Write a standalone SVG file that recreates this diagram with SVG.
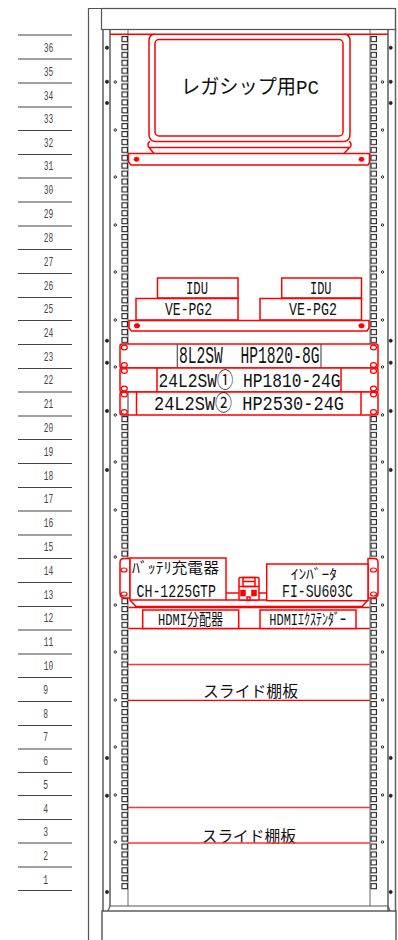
<svg xmlns="http://www.w3.org/2000/svg" width="398" height="940" viewBox="0 0 398 940">
<style>
.g{fill:none;stroke:#555;stroke-width:1.2}
.p{fill:none;stroke:#666;stroke-width:1.6}
.e{fill:none;stroke:#555;stroke-width:.9}
.r{fill:#fff;stroke:#f00;stroke-width:1.5}
.rl{fill:none;stroke:#f00;stroke-width:1.5}
.o{fill:none;stroke:#f00;stroke-width:1.2}
.rd{fill:#f00;stroke:#f00;stroke-width:.5}
.u{stroke:#444;stroke-width:1.1}
.n{font-family:"Liberation Mono","Noto Sans CJK JP",monospace;font-size:12px;fill:#444;text-anchor:middle}
.t{font-family:"Liberation Mono","Noto Sans CJK JP",monospace;fill:#111;white-space:pre}
.j{font-family:"Noto Sans CJK JP","Liberation Sans",sans-serif;fill:#111}
</style>
<defs>
<pattern id="holes" patternUnits="userSpaceOnUse" x="121" y="36" width="8" height="7.917">
<rect x="1" y=".6" width="5.4" height="5" fill="#fff" stroke="#222" stroke-width="1.100"/>
</pattern>
<pattern id="holesR" patternUnits="userSpaceOnUse" x="370" y="36" width="8" height="7.917">
<rect x="1" y=".6" width="5.4" height="5" fill="#fff" stroke="#222" stroke-width="1.100"/>
</pattern>
<circle id="b" r="1.7" fill="#222" stroke="#222" stroke-width=".5"/>
<circle id="s" r="1.2" fill="#fff" stroke="#222" stroke-width="1"/>
</defs>
<rect width="398" height="940" fill="#fff"/>
<g id="unit-scale">
<path class="u" d="M18 35H72M18 59H72M18 83H72M18 107H72M18 130.500H72M18 154.500H72M18 178H72M18 202H72M18 226H72M18 249.500H72M18 273.500H72M18 297.500H72M18 320.500H72M18 344.500H72M18 368.500H72M18 392H72M18 416H72M18 439.500H72M18 463.500H72M18 487.500H72M18 511H72M18 535H72M18 558.500H72M18 582.500H72M18 606.500H72M18 630H72M18 654H72M18 677.500H72M18 701.500H72M18 725.500H72M18 749H72M18 772.500H72M18 795.500H72M18 819.500H72M18 843H72M18 867H72M18 890.500H72"/>
<g class="n">
<text x="48.500" y="51.500" textLength="9.500" lengthAdjust="spacingAndGlyphs">36</text>
<text x="48.500" y="75.500" textLength="9.500" lengthAdjust="spacingAndGlyphs">35</text>
<text x="48.500" y="99.500" textLength="9.500" lengthAdjust="spacingAndGlyphs">34</text>
<text x="48.500" y="123" textLength="9.500" lengthAdjust="spacingAndGlyphs">33</text>
<text x="48.500" y="146.500" textLength="9.500" lengthAdjust="spacingAndGlyphs">32</text>
<text x="48.500" y="170" textLength="9.500" lengthAdjust="spacingAndGlyphs">31</text>
<text x="48.500" y="194" textLength="9.500" lengthAdjust="spacingAndGlyphs">30</text>
<text x="48.500" y="218" textLength="9.500" lengthAdjust="spacingAndGlyphs">29</text>
<text x="48.500" y="242" textLength="9.500" lengthAdjust="spacingAndGlyphs">28</text>
<text x="48.500" y="265.500" textLength="9.500" lengthAdjust="spacingAndGlyphs">27</text>
<text x="48.500" y="289.500" textLength="9.500" lengthAdjust="spacingAndGlyphs">26</text>
<text x="48.500" y="313" textLength="9.500" lengthAdjust="spacingAndGlyphs">25</text>
<text x="48.500" y="336.500" textLength="9.500" lengthAdjust="spacingAndGlyphs">24</text>
<text x="48.500" y="360.500" textLength="9.500" lengthAdjust="spacingAndGlyphs">23</text>
<text x="48.500" y="384" textLength="9.500" lengthAdjust="spacingAndGlyphs">22</text>
<text x="48.500" y="408" textLength="9.500" lengthAdjust="spacingAndGlyphs">21</text>
<text x="48.500" y="431.500" textLength="9.500" lengthAdjust="spacingAndGlyphs">20</text>
<text x="48.500" y="455.500" textLength="9.500" lengthAdjust="spacingAndGlyphs">19</text>
<text x="48.500" y="479.500" textLength="9.500" lengthAdjust="spacingAndGlyphs">18</text>
<text x="48.500" y="503" textLength="9.500" lengthAdjust="spacingAndGlyphs">17</text>
<text x="48.500" y="527" textLength="9.500" lengthAdjust="spacingAndGlyphs">16</text>
<text x="48.500" y="550.500" textLength="9.500" lengthAdjust="spacingAndGlyphs">15</text>
<text x="48.500" y="574.500" textLength="9.500" lengthAdjust="spacingAndGlyphs">14</text>
<text x="48.500" y="598.500" textLength="9.500" lengthAdjust="spacingAndGlyphs">13</text>
<text x="48.500" y="622" textLength="9.500" lengthAdjust="spacingAndGlyphs">12</text>
<text x="48.500" y="646" textLength="9.500" lengthAdjust="spacingAndGlyphs">11</text>
<text x="48.500" y="669.500" textLength="9.500" lengthAdjust="spacingAndGlyphs">10</text>
<text x="45.700" y="693.500" textLength="4.800" lengthAdjust="spacingAndGlyphs">9</text>
<text x="45.700" y="717.500" textLength="4.800" lengthAdjust="spacingAndGlyphs">8</text>
<text x="45.700" y="741" textLength="4.800" lengthAdjust="spacingAndGlyphs">7</text>
<text x="45.700" y="765" textLength="4.800" lengthAdjust="spacingAndGlyphs">6</text>
<text x="45.700" y="788.500" textLength="4.800" lengthAdjust="spacingAndGlyphs">5</text>
<text x="45.700" y="812.500" textLength="4.800" lengthAdjust="spacingAndGlyphs">4</text>
<text x="45.700" y="836" textLength="4.800" lengthAdjust="spacingAndGlyphs">3</text>
<text x="45.700" y="860" textLength="4.800" lengthAdjust="spacingAndGlyphs">2</text>
<text x="45.700" y="883.500" textLength="4.800" lengthAdjust="spacingAndGlyphs">1</text>
</g>
</g>
<g id="rack">
<path class="g" d="M88.500 940V8.500H395M395.500 29V8.500"/>
<path class="p" d="M103 29V911M110 29V906M388 29V911M395.500 29V911"/>
<path class="e" d="M128 29V906M370 29V906"/>
<rect class="g" x="101.500" y="8.500" width="294" height="21"/>
<rect x="121" y="36" width="8" height="855" fill="url(#holes)"/>
<rect x="370" y="36" width="8" height="855" fill="url(#holesR)"/>
<path class="g" d="M110 906H388"/>
<rect x="102" y="911" width="294" height="30" fill="#fff" stroke="#444" stroke-width="1.3"/>
<path class="g" d="M110 906L108 911M388 906L390 911"/>
<g id="screws">
<use href="#b" x="107" y="47.700"/><use href="#b" x="107" y="81.700"/><use href="#b" x="107" y="103"/><use href="#b" x="107" y="340.700"/><use href="#b" x="107" y="362.700"/><use href="#b" x="107" y="411"/><use href="#b" x="107" y="470"/><use href="#b" x="107" y="758"/><use href="#b" x="107" y="795.700"/><use href="#b" x="107" y="892"/>
<use href="#b" x="390.700" y="47.700"/><use href="#b" x="390.700" y="81.700"/><use href="#b" x="390.700" y="103"/><use href="#b" x="390.700" y="340.700"/><use href="#b" x="390.700" y="362.700"/><use href="#b" x="390.700" y="411"/><use href="#b" x="390.700" y="470"/><use href="#b" x="390.700" y="758"/><use href="#b" x="390.700" y="795.700"/><use href="#b" x="390.700" y="892"/>
<use href="#s" x="115.300" y="82"/><use href="#s" x="115.300" y="130"/><use href="#s" x="115.300" y="177"/><use href="#s" x="115.300" y="225"/><use href="#s" x="115.300" y="272"/><use href="#s" x="115.300" y="320"/><use href="#s" x="115.300" y="367"/><use href="#s" x="115.300" y="415"/><use href="#s" x="115.300" y="462"/><use href="#s" x="115.300" y="510"/><use href="#s" x="115.300" y="557"/><use href="#s" x="115.300" y="605"/><use href="#s" x="115.300" y="652"/><use href="#s" x="115.300" y="700"/><use href="#s" x="115.300" y="747"/><use href="#s" x="115.300" y="795"/><use href="#s" x="115.300" y="842"/>
<use href="#s" x="382.500" y="82"/><use href="#s" x="382.500" y="130"/><use href="#s" x="382.500" y="177"/><use href="#s" x="382.500" y="225"/><use href="#s" x="382.500" y="272"/><use href="#s" x="382.500" y="320"/><use href="#s" x="382.500" y="367"/><use href="#s" x="382.500" y="415"/><use href="#s" x="382.500" y="462"/><use href="#s" x="382.500" y="510"/><use href="#s" x="382.500" y="557"/><use href="#s" x="382.500" y="605"/><use href="#s" x="382.500" y="652"/><use href="#s" x="382.500" y="700"/><use href="#s" x="382.500" y="747"/><use href="#s" x="382.500" y="795"/><use href="#s" x="382.500" y="842"/>
</g>
</g>
<g id="connectors">
<path class="rl" d="M226 593H267M226 600H267"/>
</g>
<g id="legacy-pc">
<path class="rl" d="M110 34.300H388"/>
<path class="rl" d="M155 34.300Q149 34.300 149 41V134Q149 141 155 141.500H344Q350 141 350 134V41Q350 34.300 344 34.300"/>
<rect class="rl" x="155" y="39.500" width="188" height="96.500" rx="4"/>
<path class="rl" d="M150 141.500Q148 142 148 145Q148 147 149 147.500H349.500Q351 147 351 145Q351 142 349 141.500M149 147.500L154 153.500M349.500 147.500L344 153.500"/>
<path class="r" d="M128.500 153.500H369.500V162L368 165H131L128.500 162Z"/>
<ellipse class="rd" cx="136.500" cy="159.300" rx="2.600" ry="2.200"/>
<ellipse class="rd" cx="361.500" cy="159.300" rx="2.600" ry="2.200"/>
<text class="t" x="181" y="94" font-size="20" textLength="138" lengthAdjust="spacingAndGlyphs">レガシップ用PC</text>
</g>
<g id="idu-left">
<rect class="r" x="157.500" y="278" width="80.500" height="20"/>
<text class="t" x="186" y="294" font-size="19" textLength="22" lengthAdjust="spacingAndGlyphs">IDU</text>
</g>
<g id="idu-right">
<rect class="r" x="281.700" y="278" width="79.800" height="20"/>
<text class="t" x="310" y="294" font-size="19" textLength="21.500" lengthAdjust="spacingAndGlyphs">IDU</text>
</g>
<g id="ve-pg2-left">
<rect class="r" x="136" y="298.500" width="102" height="21.500"/>
<text class="t" x="165" y="315" font-size="19" textLength="47" lengthAdjust="spacingAndGlyphs">VE-PG2</text>
</g>
<g id="ve-pg2-right">
<rect class="r" x="260" y="298.500" width="101.500" height="21.500"/>
<text class="t" x="289" y="315" font-size="19" textLength="48" lengthAdjust="spacingAndGlyphs">VE-PG2</text>
</g>
<g id="shelf-24">
<path class="r" d="M129 320.500H369V328L367 331H131.500L129 328Z"/>
<ellipse class="rd" cx="137" cy="325.700" rx="2.800" ry="2.300"/>
<ellipse class="rd" cx="361.500" cy="325.700" rx="2.800" ry="2.300"/>
</g>
<g id="sw-8l2">
<rect class="r" x="120" y="344" width="258" height="24" rx="2"/>
<path class="g" d="M177.300 344V368M321 344V368"/>
<ellipse class="o" cx="124.300" cy="347.500" rx="3" ry="2.300"/><ellipse class="o" cx="124.300" cy="365" rx="3" ry="2.300"/>
<ellipse class="o" cx="373.500" cy="347.500" rx="3" ry="2.300"/><ellipse class="o" cx="373.500" cy="365" rx="3" ry="2.300"/>
<text class="t" x="179" y="363" font-size="23" textLength="140.500" lengthAdjust="spacingAndGlyphs">8L2SW  HP1820-8G</text>
</g>
<g id="sw-24l2-1">
<rect class="r" x="120" y="368" width="258" height="24" rx="2"/>
<path class="rl" d="M157 368V392M341 368V392"/>
<ellipse class="o" cx="124.300" cy="371" rx="3" ry="2.300"/><ellipse class="o" cx="124.300" cy="388.500" rx="3" ry="2.300"/>
<ellipse class="o" cx="373.500" cy="371" rx="3" ry="2.300"/><ellipse class="o" cx="373.500" cy="388.500" rx="3" ry="2.300"/>
<text class="t" x="158.500" y="386.500" font-size="21" textLength="182" lengthAdjust="spacingAndGlyphs">24L2SW① HP1810-24G</text>
</g>
<g id="sw-24l2-2">
<rect class="r" x="120" y="392" width="258" height="23" rx="2"/>
<path class="g" d="M128 392V415"/>
<path class="rl" d="M136.500 392V415M361 392V415"/>
<ellipse class="o" cx="124.300" cy="394.500" rx="3" ry="2.300"/><ellipse class="o" cx="124.300" cy="412" rx="3" ry="2.300"/>
<ellipse class="o" cx="373.500" cy="394.500" rx="3" ry="2.300"/><ellipse class="o" cx="373.500" cy="412" rx="3" ry="2.300"/>
<text class="t" x="154" y="410" font-size="21" textLength="190" lengthAdjust="spacingAndGlyphs">24L2SW② HP2530-24G</text>
</g>
<g id="shelf-13">
<path class="rl" d="M130 600L136 606.500H362L368 600M128.500 607.500H369.500"/>
<path class="rl" d="M128.500 628.500H369.500"/>
</g>
<g id="battery-charger">
<path class="r" d="M130 558.500H124Q120 558.500 120 562.500V593Q120 598 125 598H130Z"/>
<rect class="r" x="130" y="558" width="96" height="42"/>
<ellipse class="o" cx="124" cy="570" rx="3" ry="2"/><ellipse class="o" cx="124" cy="594" rx="3" ry="2"/>
<text class="t" x="132" y="573" font-size="15" textLength="87" lengthAdjust="spacingAndGlyphs">ﾊﾞｯﾃﾘ充電器</text>
<text class="t" x="136.500" y="596.700" font-size="19" textLength="79.500" lengthAdjust="spacingAndGlyphs">CH-1225GTP</text>
</g>
<g id="breaker">
<rect class="r" x="239" y="577.500" width="20" height="22.500" rx="1"/>
<rect class="rl" x="243" y="577.500" width="12" height="9"/>
<path class="rl" d="M243 581.500H255M239 586.500H259"/>
<rect class="rd" x="240.500" y="590" width="5" height="6"/>
<rect class="rd" x="251.500" y="590" width="5" height="6"/>
<rect class="rl" x="247" y="597" width="3" height="3.500"/>
</g>
<g id="inverter">
<path class="r" d="M368 558.500H374Q378 558.500 378 562.500V593Q378 598 373 598H368Z"/>
<rect class="r" x="266.700" y="564" width="101.300" height="36.700"/>
<ellipse class="o" cx="373.500" cy="570" rx="3" ry="2"/><ellipse class="o" cx="373.500" cy="594" rx="3" ry="2"/>
<text class="t" x="290.700" y="579" font-size="14" textLength="46.300" lengthAdjust="spacingAndGlyphs">ｲﾝﾊﾞｰﾀ</text>
<text class="t" x="282" y="597" font-size="18" textLength="71" lengthAdjust="spacingAndGlyphs">FI-SU603C</text>
</g>
<g id="hdmi-splitter">
<rect class="r" x="142.700" y="610" width="96" height="18.500"/>
<text class="t" x="158" y="625" font-size="16" textLength="65" lengthAdjust="spacingAndGlyphs">HDMI分配器</text>
</g>
<g id="hdmi-extender">
<rect class="r" x="260" y="610" width="96" height="18.500"/>
<text class="t" x="269.300" y="625" font-size="16" textLength="76.700" lengthAdjust="spacingAndGlyphs">HDMIｴｸｽﾃﾝﾀﾞｰ</text>
</g>
<g id="slide-shelf-1">
<path d="M128 664.500H370" fill="none" stroke="#f33" stroke-width="1.300"/>
<text class="j" x="203" y="697" font-size="15.800" textLength="95" lengthAdjust="spacingAndGlyphs">スライド棚板</text>
<path d="M128 700.300H370" fill="none" stroke="#f00" stroke-width="1.300"/>
</g>
<g id="slide-shelf-2">
<path d="M128 807.500H370" fill="none" stroke="#f33" stroke-width="1.300"/>
<text class="j" x="201.700" y="841.500" font-size="15.800" textLength="94.300" lengthAdjust="spacingAndGlyphs">スライド棚板</text>
<path d="M128 843H370" fill="none" stroke="#f33" stroke-width="1.500"/>
</g>
</svg>
